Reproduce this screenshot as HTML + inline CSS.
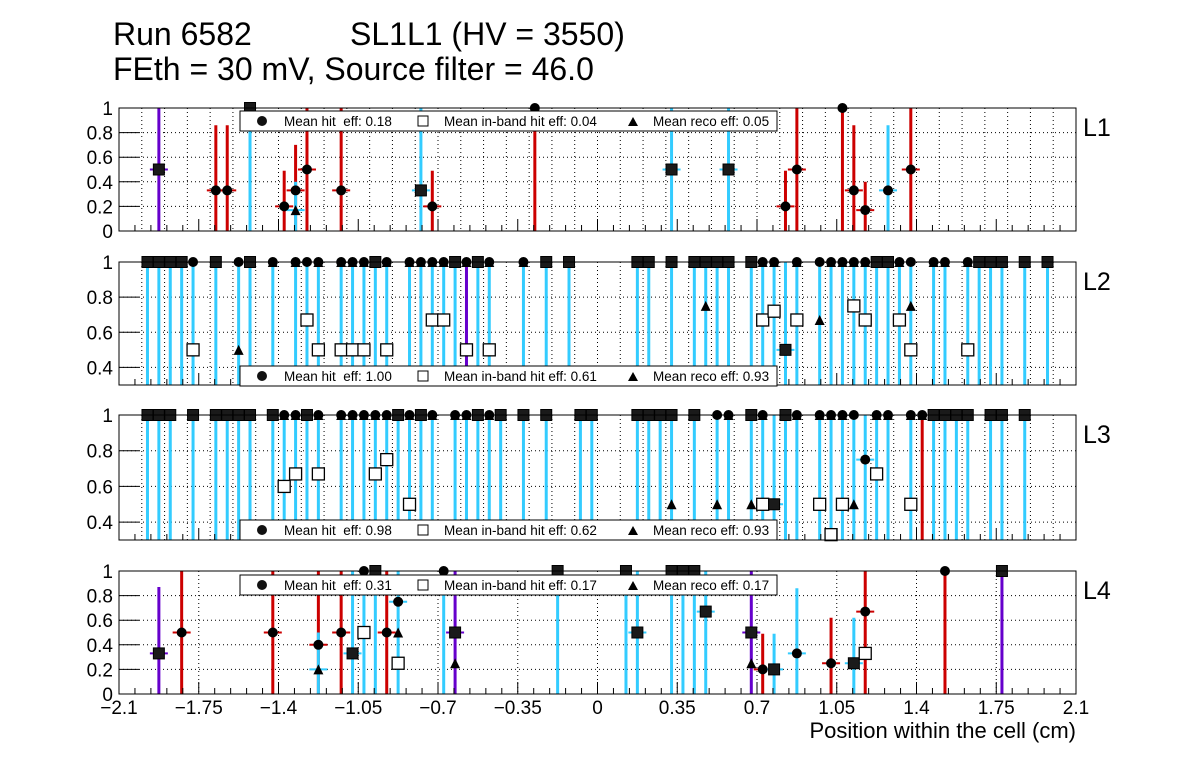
<!DOCTYPE html>
<html><head><meta charset="utf-8">
<style>
html,body{margin:0;padding:0;background:#fff;}
svg{display:block;font-family:"Liberation Sans",sans-serif;}
text{white-space:pre;}
</style></head>
<body>
<svg id="chart" width="1196" height="772" viewBox="0 0 1196 772" xmlns="http://www.w3.org/2000/svg">
<rect x="0" y="0" width="1196" height="772" fill="#fff"/>
<text x="113" y="45" font-size="32">Run 6582</text>
<text x="350" y="45" font-size="32">SL1L1 (HV = 3550)</text>
<text x="113" y="80" font-size="32">FEth = 30 mV, Source filter = 46.0</text>
<text x="1076" y="738" font-size="22" text-anchor="end">Position within the cell (cm)</text>
<g id="plots"></g>
<g id="overlay"></g>
</svg>
<script>
// ---- data ----
const p1X=[-1.925,-1.675,-1.625,-1.525,-1.375,-1.325,-1.325,-1.275,-1.125,-0.775,-0.725,-0.275,0.325,0.575,0.825,0.875,1.075,1.125,1.175,1.275,1.375];
const p1Hit=[0.5,0.33,0.33,1,0.2,0.33,null,0.5,0.33,0.33,0.2,1,0.5,0.5,0.2,0.5,1,0.33,0.17,0.33,0.5];
const p1Band=[0.5,null,null,1,null,null,null,null,null,0.33,null,null,0.5,0.5,null,null,null,null,null,null,null];
const p1Reco=[0.5,null,null,1,null,null,0.17,null,null,0.33,null,null,0.5,0.5,null,null,null,null,null,null,null];
const p1Hi=[1,0.86,0.86,1,0.49,0.7,0.4,1,1,1,0.49,1,1,1,0.49,1,1,0.86,0.4,0.86,1];
const p1Col=['p','r','r','c','r','r','c','r','r','c','r','r','c','c','r','r','r','r','r','c','r'];

const p2X=[-1.975,-1.925,-1.875,-1.825,-1.775,-1.675,-1.575,-1.525,-1.425,-1.325,-1.275,-1.225,-1.125,-1.075,-1.025,-0.975,-0.925,-0.825,-0.775,-0.725,-0.675,-0.625,-0.575,-0.525,-0.475,-0.325,-0.225,-0.125,
0.175,0.225,0.325,0.425,0.475,0.525,0.575,0.675,0.725,0.775,0.825,0.875,0.975,1.025,1.075,1.125,1.175,1.225,1.275,1.325,1.375,1.475,1.525,1.625,1.675,1.725,1.775,1.875,1.975];
const p2Hit=[1,1,1,1,1,1,1,1,1,1,1,1,1,1,1,1,1,1,1,1,1,1,1,1,1,1,1,1,
1,1,1,1,1,1,1,1,1,1,0.5,1,1,1,1,1,1,1,1,1,1,1,1,1,1,1,1,1,1];
const p2Band=[1,1,1,1,0.5,1,null,1,null,null,0.67,0.5,0.5,0.5,0.5,1,0.5,null,null,0.67,0.67,1,0.5,1,0.5,null,1,1,
1,1,1,1,1,1,1,1,0.67,0.72,0.5,0.67,null,null,null,0.75,0.67,1,1,0.67,0.5,null,null,0.5,1,1,1,1,1];
const p2Reco=[1,1,1,1,0.5,1,0.5,1,1,1,0.67,1,1,1,1,1,1,1,1,1,1,1,1,1,1,1,1,1,
1,1,1,1,0.75,1,1,1,1,1,0.5,1,0.67,1,1,1,1,1,1,1,0.75,1,1,1,1,1,1,1,1];
const p2Col=['c','c','c','c','c','c','c','c','c','c','c','c','c','c','c','c','c','c','c','c','c','c','p','c','c','c','c','c',
'c','c','c','c','c','c','c','c','c','c','c','c','c','c','c','c','c','c','c','c','c','c','c','c','c','c','c','c','c'];

const p3X=[-1.975,-1.925,-1.875,-1.775,-1.675,-1.625,-1.575,-1.525,-1.425,-1.375,-1.325,-1.275,-1.225,-1.125,-1.075,-1.025,-0.975,-0.925,-0.875,-0.825,-0.775,-0.725,-0.625,-0.575,-0.525,-0.475,-0.425,-0.325,-0.225,-0.075,-0.025,
0.175,0.225,0.275,0.325,0.425,0.525,0.575,0.675,0.725,0.775,0.825,0.875,0.975,1.025,1.075,1.125,1.175,1.225,1.275,1.375,1.425,1.475,1.525,1.575,1.625,1.725,1.775,1.875];
const p3Hit=[1,1,1,1,1,1,1,1,1,1,1,1,1,1,1,1,1,1,1,1,1,1,1,1,1,1,1,1,1,1,1,
1,1,1,1,1,1,1,1,1,0.5,1,1,1,1,1,1,0.75,1,1,1,1,1,1,1,1,1,1,1];
const p3Band=[1,1,1,1,1,1,1,1,1,0.6,0.67,1,0.67,null,null,null,0.67,0.75,1,0.5,1,null,null,null,1,null,1,1,1,1,1,
1,1,1,1,1,null,null,1,0.5,0.5,1,null,0.5,0.33,0.5,null,null,0.67,null,0.5,null,1,1,1,1,1,1,1];
const p3Reco=[1,1,1,1,1,1,1,1,1,1,1,1,1,1,1,1,1,1,1,1,1,1,1,1,1,1,1,1,1,1,1,
1,1,1,0.5,1,0.5,1,0.5,1,0.5,1,1,1,1,1,0.5,null,1,1,1,1,1,1,1,1,1,1,1];
const p3Col=['c','c','c','c','c','c','c','c','c','c','c','c','c','c','c','c','c','c','c','c','c','c','c','c','c','c','c','c','c','c','c',
'c','c','c','c','c','c','c','c','c','c','c','c','c','c','c','c','c','c','c','c','r','c','c','c','c','c','c','c'];

const p4X=[-1.925,-1.825,-1.425,-1.225,-1.225,-1.125,-1.075,-1.025,-0.975,-0.925,-0.875,-0.675,-0.625,-0.175,0.125,0.175,0.325,0.375,0.425,0.475,0.675,0.725,0.775,0.875,1.025,1.125,1.175,1.525,1.775];
const p4Hit=[0.33,0.5,0.5,0.4,null,0.5,0.33,1,1,0.5,0.75,1,0.5,1,1,0.5,1,1,1,0.67,0.5,0.2,0.2,0.33,0.25,0.25,0.67,1,1];
const p4Band=[0.33,null,null,null,null,null,0.33,0.5,1,null,0.25,null,0.5,1,1,0.5,1,1,1,0.67,0.5,null,0.2,null,null,0.25,0.33,null,1];
const p4Reco=[0.33,null,null,null,0.2,null,0.33,0.5,1,null,0.5,null,0.25,1,1,0.5,1,1,1,0.67,0.25,null,0.2,null,null,0.25,0.33,null,1];
const p4Hi=[0.87,1,1,1,0.5,1,1,1,1,1,1,1,1,1,1,1,1,1,1,1,1,0.49,0.49,0.86,0.62,0.62,1,1,1];
const p4Col=['p','r','r','r','c','r','c','c','c','r','c','c','p','c','c','c','c','c','c','c','p','r','c','c','r','c','r','r','p'];

const legendVals=[["0.18","0.04","0.05"],["1.00","0.61","0.93"],["0.98","0.62","0.93"],["0.31","0.17","0.17"]];
const xTickVals=[-2.1,-1.75,-1.4,-1.05,-0.7,-0.35,0,0.35,0.7,1.05,1.4,1.75,2.1];
const xTickLabels=["\u22122.1","\u22121.75","\u22121.4","\u22121.05","\u22120.7","\u22120.35","0","0.35","0.7","1.05","1.4","1.75","2.1"];

// ---- layout ----
const NS="http://www.w3.org/2000/svg";
const L=119,R=1076,XMIN=-2.1,XMAX=2.1;
function xs(v){return L+(v-XMIN)/(XMAX-XMIN)*(R-L);}
const COL={c:'#33ccff',r:'#cc0000',p:'#6600cc'};
const root=document.getElementById('plots');
const overlay=document.getElementById('overlay');
function mk(tag,attrs,parent){const e=document.createElementNS(NS,tag);for(const k in attrs)e.setAttribute(k,attrs[k]);(parent||root).appendChild(e);return e;}

const panels=[
 {name:'L1',top:108,bot:231,ymin:0,ymax:1,yt:[0,0.2,0.4,0.6,0.8,1],grid:0.1,legY:111,x:p1X,hit:p1Hit,band:p1Band,reco:p1Reco,hi:p1Hi,col:p1Col},
 {name:'L2',top:262,bot:385,ymin:0.3,ymax:1,yt:[0.4,0.6,0.8,1],grid:0.1,legY:366,x:p2X,hit:p2Hit,band:p2Band,reco:p2Reco,hi:null,col:p2Col},
 {name:'L3',top:415,bot:540,ymin:0.3,ymax:1,yt:[0.4,0.6,0.8,1],grid:0.1,legY:520,x:p3X,hit:p3Hit,band:p3Band,reco:p3Reco,hi:null,col:p3Col},
 {name:'L4',top:571,bot:694,ymin:0,ymax:1,yt:[0,0.2,0.4,0.6,0.8,1],grid:0.35,legY:575,x:p4X,hit:p4Hit,band:p4Band,reco:p4Reco,hi:p4Hi,col:p4Col}
];

panels.forEach((P,pi)=>{
 const g=mk('g',{});
 
 
 const ys=v=>P.bot-(v-P.ymin)/(P.ymax-P.ymin)*(P.bot-P.top);
 for(let v=(P.grid===0.35?-1.75:-2.0);v<2.06;v+=P.grid){
   const x=xs(v); if(x<=L+1||x>=R-1)continue;
   mk('line',{x1:x,x2:x,y1:P.top,y2:P.bot,stroke:'#000','stroke-width':1,'stroke-dasharray':'1,3'},g);
 }
 P.yt.forEach(v=>{
   const y=ys(v);
   if(v!==P.ymax&&v!==P.ymin) mk('line',{x1:L,x2:R,y1:y,y2:y,stroke:'#000','stroke-width':1,'stroke-dasharray':'1,3'},g);
   mk('line',{x1:L,x2:L+20,y1:y,y2:y,stroke:'#000','stroke-width':1},g);
   const t=mk('text',{x:113,y:y+7,'font-size':19,'text-anchor':'end'},g);
   t.textContent=(v===0||v===1)?String(v):v.toFixed(1);
   
   
 });
 const cid='clip'+pi;
 const cp=mk('clipPath',{id:cid},g);
 mk('rect',{x:L,y:P.top,width:R-L,height:P.bot-P.top},cp);
 const bars=mk('g',{'clip-path':'url(#'+cid+')'},g);
 P.x.forEach((xv,i)=>{
   const x=xs(xv);
   const hi=P.hi?P.hi[i]:1;
   const c=COL[P.col[i]];
   const b=mk('line',{x1:x,x2:x,y1:ys(Math.max(P.ymin,0)),y2:ys(Math.min(hi,P.ymax)),stroke:c,'stroke-width':3},bars);
   
   
   const v=P.hit[i]!==null?P.hit[i]:P.reco[i];
   if(v!==null&&v<1) mk('line',{x1:x-9,x2:x+9,y1:ys(v),y2:ys(v),stroke:c,'stroke-width':2},g);
 });
 P.x.forEach((xv,i)=>{
   const x=xs(xv);
   if(P.reco[i]!==null&&P.reco[i]>=P.ymin){
     const y=ys(P.reco[i]);
     const t=mk('polygon',{points:`${x-5},${y+5} ${x+5},${y+5} ${x},${y-5}`,fill:'#000'},g);
     
     
   }
   if(P.hit[i]!==null&&P.hit[i]>=P.ymin){
     const c=mk('circle',{cx:x,cy:ys(P.hit[i]),r:5,fill:'#000'},g);
     
     
   }
   if(P.band[i]!==null&&P.band[i]>=P.ymin){
     const y=ys(P.band[i]);
     const full=(P.band[i]===P.hit[i]);
     const s=full?mk('rect',{x:x-5.5,y:y-5.5,width:11,height:11,fill:'#1a1a1a',stroke:'#000','stroke-width':1},g)
                :mk('rect',{x:x-6,y:y-6,width:12,height:12,fill:'#fff',stroke:'#000','stroke-width':1.3},g);
     
     
   }
 });
 mk('rect',{x:L,y:P.top,width:R-L,height:P.bot-P.top,fill:'none',stroke:'#000','stroke-width':1},g);
 const pl=mk('text',{x:1083,y:P.top+28,'font-size':25},g);
 pl.textContent=P.name;
 
 
 for(let k=-30;k<=30;k++){
   const v=k*0.07; const x=xs(v);
   if(x<L-0.5||x>R+0.5)continue;
   const major=(k%5===0);
   mk('line',{x1:x,x2:x,y1:P.bot,y2:P.bot-(major?12:6),stroke:'#000','stroke-width':1},g);
 }
 const lg=mk('g',{},overlay);
 
 
 const ly=P.legY;
 mk('rect',{x:240,y:ly,width:537,height:20,fill:'#fff',stroke:'#000','stroke-width':1},lg);
 mk('circle',{cx:262,cy:ly+10,r:5,fill:'#111'},lg);
 let t=mk('text',{x:284,y:ly+15,'font-size':13.5},lg);t.textContent='Mean hit  eff: '+legendVals[pi][0];
 mk('rect',{x:418,y:ly+5,width:10,height:10,fill:'#fff',stroke:'#000'},lg);
 t=mk('text',{x:444,y:ly+15,'font-size':13.5},lg);t.textContent='Mean in-band hit eff: '+legendVals[pi][1];
 mk('polygon',{points:`628,${ly+15} 638,${ly+15} 633,${ly+6}`,fill:'#000'},lg);
 t=mk('text',{x:653,y:ly+15,'font-size':13.5},lg);t.textContent='Mean reco eff: '+legendVals[pi][2];
});
xTickVals.forEach((v,i)=>{
 const t=mk('text',{x:xs(v),y:714,'font-size':19,'text-anchor':'middle'});
 t.textContent=xTickLabels[i];
 
 
});
</script>
</body></html>
